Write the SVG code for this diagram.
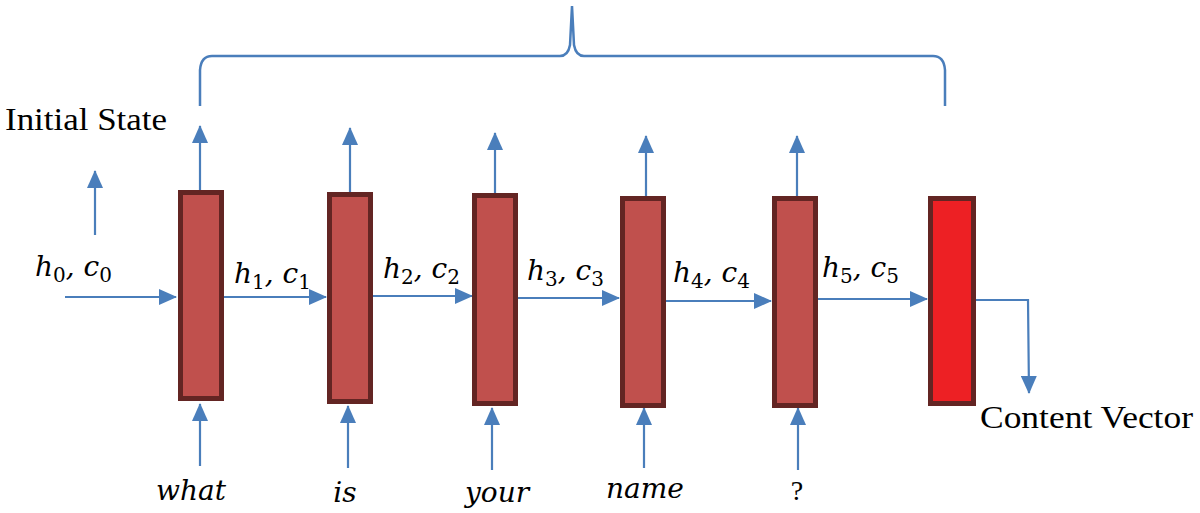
<svg xmlns="http://www.w3.org/2000/svg" width="1200" height="513" viewBox="0 0 1200 513">
<defs>
<marker id="ahb" markerWidth="18" markerHeight="16" refX="17" refY="8" orient="auto" markerUnits="userSpaceOnUse" viewBox="0 0 18 16">
<path d="M0,0 L18,8 L0,16 z" fill="#4A7EBB"/>
</marker>
</defs>
<style>
.cell{fill:#C0504D;stroke:#632523;stroke-width:5}
.out{fill:#ED2024;stroke:#632523;stroke-width:5}
.conn{stroke:#4A7EBB;stroke-width:2.2;fill:none;marker-end:url(#ahb)}
.brace{stroke:#4A7EBB;stroke-width:2.5;fill:none}
.lab{font-family:"Liberation Serif",serif;font-size:32px;fill:#000}
.math{font-family:"DejaVu Serif","Liberation Serif",serif;font-style:italic;font-size:28px;fill:#000}
.sub{font-size:20px;font-style:normal}
</style>
<rect width="1200" height="513" fill="#fff"/>
<g id="brace">
<path class="brace" d="M200,106 L200,70 Q201,56 212,56 L560,56 Q568,56 570,45 L572,6 L574,45 Q576,56 584,56 L933,56 Q944,56 945,70 L945,106"/>
</g>
<g id="connectors">
<line class="conn" x1="95" y1="235" x2="95" y2="171"/>
<line class="conn" x1="200" y1="190" x2="200" y2="126"/>
<line class="conn" x1="350" y1="192" x2="350" y2="128"/>
<line class="conn" x1="495" y1="194" x2="495" y2="133"/>
<line class="conn" x1="646" y1="197" x2="646" y2="136"/>
<line class="conn" x1="797" y1="197" x2="797" y2="136"/>
<line class="conn" x1="65" y1="297" x2="176" y2="297"/>
<line class="conn" x1="223" y1="297" x2="326" y2="297"/>
<line class="conn" x1="372" y1="296" x2="472" y2="296"/>
<line class="conn" x1="517" y1="298" x2="619" y2="298"/>
<line class="conn" x1="665" y1="301" x2="771" y2="301"/>
<line class="conn" x1="817" y1="299" x2="927" y2="299"/>
<line class="conn" x1="200" y1="466" x2="200" y2="404"/>
<line class="conn" x1="348" y1="468" x2="348" y2="406"/>
<line class="conn" x1="492" y1="470" x2="492" y2="408"/>
<line class="conn" x1="644" y1="468" x2="644" y2="408"/>
<line class="conn" x1="798" y1="470" x2="798" y2="408"/>
<path class="conn" d="M975,300 L1028,300 L1029,393"/>
</g>
<g id="cell1"><rect class="cell" x="180.5" y="192.5" width="41" height="206"/></g>
<g id="cell2"><rect class="cell" x="329.5" y="194.5" width="41" height="207"/></g>
<g id="cell3"><rect class="cell" x="474.5" y="195.5" width="41" height="208"/></g>
<g id="cell4"><rect class="cell" x="622.5" y="198.5" width="41" height="207"/></g>
<g id="cell5"><rect class="cell" x="774.5" y="198.5" width="41" height="207"/></g>
<g id="cell6"><rect class="out" x="930.5" y="198.5" width="43" height="205"/></g>
<g id="labels">
<text class="lab" x="5" y="130" textLength="162" lengthAdjust="spacingAndGlyphs">Initial State</text>
<text class="lab" x="980" y="428" textLength="213" lengthAdjust="spacingAndGlyphs">Content Vector</text>
<text class="math" x="35" y="276">h<tspan class="sub" dy="6">0</tspan><tspan dy="-6">, c</tspan><tspan class="sub" dy="6">0</tspan></text>
<text class="math" x="234" y="283">h<tspan class="sub" dy="6">1</tspan><tspan dy="-6">, c</tspan><tspan class="sub" dy="6">1</tspan></text>
<text class="math" x="383" y="278">h<tspan class="sub" dy="6">2</tspan><tspan dy="-6">, c</tspan><tspan class="sub" dy="6">2</tspan></text>
<text class="math" x="527" y="280">h<tspan class="sub" dy="6">3</tspan><tspan dy="-6">, c</tspan><tspan class="sub" dy="6">3</tspan></text>
<text class="math" x="673" y="282">h<tspan class="sub" dy="6">4</tspan><tspan dy="-6">, c</tspan><tspan class="sub" dy="6">4</tspan></text>
<text class="math" x="822" y="277">h<tspan class="sub" dy="6">5</tspan><tspan dy="-6">, c</tspan><tspan class="sub" dy="6">5</tspan></text>
<text class="math" x="191" y="500" text-anchor="middle">what</text>
<text class="math" x="345" y="502" text-anchor="middle">is</text>
<text class="math" x="497" y="502" text-anchor="middle">your</text>
<text class="math" x="645" y="498" text-anchor="middle">name</text>
<text class="lab" x="797" y="500" text-anchor="middle" style="font-size:28px">?</text>
</g>
</svg>
